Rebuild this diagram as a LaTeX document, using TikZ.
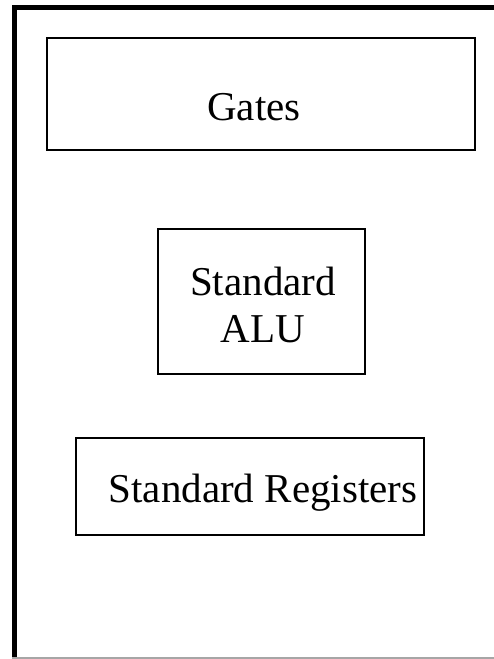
\documentclass[tikz,border=0pt]{standalone}
\usepackage{fontspec}
\setmainfont{Liberation Serif}
\begin{document}
\begin{tikzpicture}[x=1pt,y=-1pt,
  box/.style={draw=black, line width=2.2pt, rectangle, inner sep=0pt},
  lbl/.style={font=\fontsize{41}{47}\selectfont, inner sep=0pt, anchor=base, align=center}]
\useasboundingbox (0,0) rectangle (494,659);
% frame
\draw[line width=5pt] (12,7.5) -- (494,7.5);
\draw[line width=5pt] (14.5,5) -- (14.5,659);
\draw[line width=1.5pt, gray!70] (12,658) -- (494,658);
% boxes
\node[box, minimum width=428pt, minimum height=112pt] (gates) at (261,94) {};
\node[box, minimum width=207pt, minimum height=145pt] (alu) at (261.5,301.5) {};
\node[box, minimum width=348pt, minimum height=97pt] (regs) at (250,486.5) {};
% labels
\node[lbl] (gatesT) at (254,120) {Gates};
\node[lbl] (aluT1) at (263,295) {Standard};
\node[lbl] (aluT2) at (263,342) {ALU};
\node[lbl] (regsT) at (263,502) {Standard Registers};
\end{tikzpicture}
\end{document}
